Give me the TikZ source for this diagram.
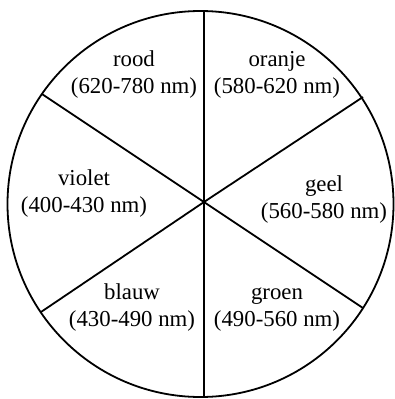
\documentclass[tikz,border=0pt]{standalone}
\usepackage{fontspec}
\setmainfont{Liberation Serif}
\usepackage{tikz}
\usetikzlibrary{positioning}

\begin{document}
\begin{tikzpicture}[
        x=1pt, y=-1pt,
        wheel/.style={
          draw=black,
          line width=1.8pt
        },
        colourlabel/.style={
          align=center,
          inner sep=0pt,
          font=\fontsize{22.8}{27}\selectfont
        }
      ]
        \useasboundingbox (0, 0) rectangle (395, 399);
        \coordinate (mid) at (204, 202);

        \draw[wheel] (200.5, 204) circle (193);
        \draw[wheel] (mid) -- (204, 11);
        \draw[wheel] (mid) -- (204, 397);
        \draw[wheel] (mid) -- (42, 94);
        \draw[wheel] (mid) -- (363, 97);
        \draw[wheel] (mid) -- (41, 312);
        \draw[wheel] (mid) -- (363, 308);

        \node (rood)   at (134, 75)  [colourlabel] {rood\\(620-780 nm)};
        \node (oranje) at (277, 75)  [colourlabel] {oranje\\(580-620 nm)};
        \node (violet) at (84, 194)  [colourlabel] {violet\\(400-430 nm)};
        \node (geel)   at (324, 200) [colourlabel] {geel\\(560-580 nm)};
        \node (blauw)  at (132, 308) [colourlabel] {blauw\\(430-490 nm)};
        \node (groen)  at (277, 310) [colourlabel] {groen\\(490-560 nm)};
      \end{tikzpicture}
\end{document}
